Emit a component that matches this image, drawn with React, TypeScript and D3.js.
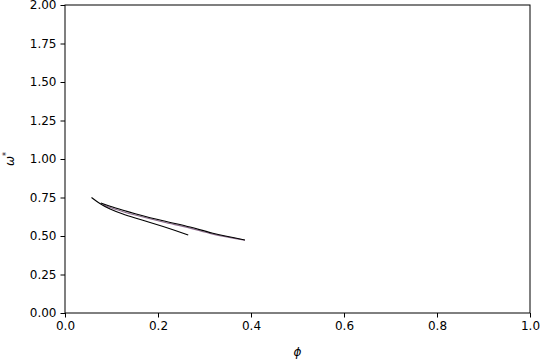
import React, { useRef, useEffect } from "react";
import * as d3 from "d3";

// curve samples (phi, omega*)
const lowerPhi = [0.057, 0.075, 0.097, 0.123, 0.151, 0.183, 0.211, 0.237, 0.265];
const lowerOmega = [0.75, 0.711, 0.675, 0.644, 0.617, 0.588, 0.562, 0.536, 0.506];

const upperPhi = [0.077, 0.097, 0.125, 0.151, 0.211, 0.269, 0.318, 0.387];
const upperOmega = [0.714, 0.693, 0.667, 0.645, 0.599, 0.558, 0.518, 0.474];

const purplePhi = [0.082, 0.097, 0.125, 0.151, 0.211, 0.269, 0.318, 0.387];
const purpleOmega = [0.705, 0.685, 0.658, 0.636, 0.591, 0.551, 0.512, 0.472];

const xTicks = [0, 0.2, 0.4, 0.6, 0.8, 1.0];
const yTicks = [0, 0.25, 0.5, 0.75, 1.0, 1.25, 1.5, 1.75, 2.0];

const W = 540;
const H = 360;
const margin = { left: 65, right: 10, top: 5, bottom: 47 };

const App = () => {
    const ref = useRef<SVGSVGElement>(null);

    useEffect(() => {
        const svg = d3.select(ref.current);
        svg.selectAll("*").remove();

        const x = d3.scaleLinear().domain([0, 1]).range([margin.left, W - margin.right]);
        const y = d3.scaleLinear().domain([0, 2]).range([H - margin.bottom, margin.top]);

        const font = "DejaVu Sans";

        const xAxis = svg.append("g")
            .attr("transform", `translate(0,${H - margin.bottom})`)
            .call(d3.axisBottom(x).tickValues(xTicks).tickFormat(d3.format(".1f")).tickSizeOuter(0).tickSize(4.5).tickPadding(4));
        const yAxis = svg.append("g")
            .attr("transform", `translate(${margin.left},0)`)
            .call(d3.axisLeft(y).tickValues(yTicks).tickFormat(d3.format(".2f")).tickSizeOuter(0).tickSize(4.5).tickPadding(4));

        [xAxis, yAxis].forEach(g => {
            g.select(".domain").remove();
            g.selectAll("text").attr("font-family", font).attr("font-size", 12).attr("fill", "#000");
            g.selectAll("line").attr("stroke", "#000").attr("stroke-width", 1);
        });

        // frame
        svg.append("rect")
            .attr("x", margin.left)
            .attr("y", margin.top)
            .attr("width", W - margin.left - margin.right)
            .attr("height", H - margin.top - margin.bottom)
            .attr("fill", "none")
            .attr("stroke", "#000")
            .attr("stroke-width", 1);

        const line = d3.line<[number, number]>()
            .x(d => x(d[0]))
            .y(d => y(d[1]))
            .curve(d3.curveNatural);

        const curves: [number[], number[], string][] = [
            [purplePhi, purpleOmega, "#8a6a8a"],
            [upperPhi, upperOmega, "#000"],
            [lowerPhi, lowerOmega, "#000"],
        ];
        curves.forEach(([px, py, c]) => {
            svg.append("path")
                .datum(px.map((v, i) => [v, py[i]] as [number, number]))
                .attr("fill", "none")
                .attr("stroke", c)
                .attr("stroke-width", 1.1)
                .attr("d", line);
        });

        svg.append("text")
            .attr("x", x(0.5))
            .attr("y", 356)
            .attr("text-anchor", "middle")
            .attr("font-family", font)
            .attr("font-style", "italic")
            .attr("font-size", 12)
            .text("ϕ");

        const yl = svg.append("text")
            .attr("transform", `translate(14,${y(1)}) rotate(-90)`)
            .attr("text-anchor", "middle")
            .attr("font-family", font)
            .attr("font-size", 12);
        yl.append("tspan").attr("font-style", "italic").text("ω");
        yl.append("tspan").attr("dy", -5).attr("font-size", 8).text("*");
    }, []);

    return (
        <svg ref={ref} width={W} height={H} style={{ position: "absolute", left: 0, top: 0 }} />
    );
};

export default App;
